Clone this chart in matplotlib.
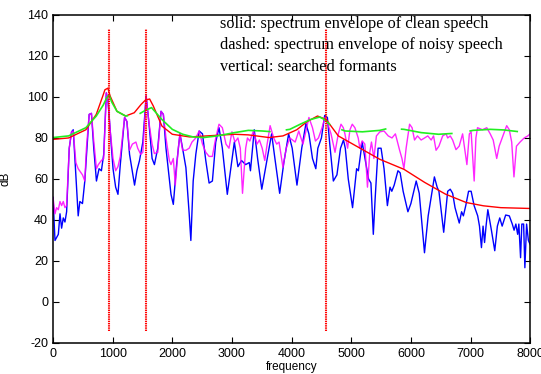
import matplotlib
matplotlib.use('Agg')
import matplotlib.pyplot as plt
import numpy as np

plt.rcParams['axes.unicode_minus'] = False
plt.rcParams['lines.scale_dashes'] = False

# --- spectrum of clean speech (blue) ---
clean_f = [0, 33, 89, 117, 144, 172, 200, 228, 272, 311,
           339, 383, 422, 450, 494, 533, 606, 644, 683, 728,
           772, 811, 850, 894, 922, 961, 1006, 1050, 1089, 1128,
           1200, 1239, 1283, 1367, 1406, 1450, 1506, 1561, 1606, 1661,
           1700, 1756, 1811, 1850, 1894, 1978, 2017, 2072, 2128, 2172,
           2228, 2283, 2311, 2350, 2394, 2450, 2506, 2561, 2617, 2672,
           2728, 2783, 2839, 2922, 3040, 3100, 3160, 3230, 3290, 3310,
           3374, 3430, 3500, 3580, 3665, 3720, 3800, 3870, 3950, 4010,
           4090, 4170, 4240, 4290, 4350, 4406, 4440, 4500, 4555, 4600,
           4640, 4700, 4760, 4820, 4870, 4900, 4950, 5022, 5090, 5120,
           5183, 5230, 5290, 5330, 5370, 5400, 5450, 5500, 5550, 5606,
           5650, 5680, 5720, 5783, 5820, 5870, 5950, 6000, 6089, 6140,
           6228, 6290, 6394, 6440, 6470, 6550, 6590, 6617, 6660, 6700,
           6740, 6811, 6850, 6880, 6920, 6967, 7010, 7060, 7120, 7150,
           7183, 7210, 7235, 7260, 7290, 7320, 7350, 7406, 7450, 7490,
           7530, 7589, 7650, 7700, 7730, 7760, 7790, 7810, 7839, 7860,
           7890, 7911, 7940, 7970, 8000]
clean_db = [51, 30, 33, 43, 36, 41, 39, 44, 75, 83,
            84, 62, 42, 49, 48, 59, 91.5, 92, 75, 59,
            65, 64, 72, 102, 98, 83, 65, 56, 52.5, 67,
            90, 88, 72, 57, 64, 69, 78, 100.5, 88, 70,
            67, 75, 93, 91.5, 75, 52.5, 47.6, 67, 82, 75,
            65.5, 43, 30, 59, 72, 83.4, 82, 69, 58, 59,
            78, 85, 75, 52.5, 78, 66, 69, 67, 68, 64,
            84, 70, 55, 68, 82, 70, 53, 68, 82, 75,
            57, 75, 87, 82, 70, 65, 75, 80, 91, 90,
            77, 59, 62, 75, 79, 75, 60, 46, 65, 64,
            78, 70, 60, 58, 33, 50, 75, 75, 65, 47,
            56, 54, 57, 64, 63, 54, 44, 48, 59, 53,
            24, 42, 61, 56, 54, 34, 46, 54, 55, 53,
            46, 38.5, 44, 42, 47, 54, 54, 47, 42, 37,
            26.5, 37, 29, 37, 45, 40, 35, 25, 37, 41,
            37, 42.4, 42, 38, 35, 38, 33, 38, 21.6, 38,
            38, 16.7, 38, 30, 28]

# --- spectrum of noisy speech (magenta) ---
noisy_f = [0, 33, 60, 89, 117, 144, 172, 200, 228, 272,
           311, 339, 383, 422, 494, 533, 560, 606, 644, 683,
           728, 760, 811, 850, 894, 922, 961, 1006, 1050, 1089,
           1128, 1200, 1239, 1283, 1330, 1390, 1420, 1470, 1506, 1561,
           1606, 1661, 1700, 1756, 1811, 1850, 1894, 1950, 1978, 2017,
           2050, 2100, 2128, 2172, 2228, 2283, 2330, 2394, 2450, 2506,
           2561, 2617, 2672, 2728, 2783, 2839, 2900, 2950, 3000, 3050,
           3100, 3140, 3177, 3230, 3260, 3300, 3360, 3420, 3460, 3507,
           3550, 3590, 3640, 3700, 3750, 3790, 3855, 3910, 3970, 4060,
           4120, 4190, 4230, 4290, 4350, 4400, 4450, 4510, 4560, 4606,
           4661, 4728, 4783, 4828, 4867, 4894, 4939, 4978, 5017, 5061,
           5117, 5144, 5183, 5228, 5272, 5311, 5339, 5380, 5422, 5480,
           5550, 5620, 5683, 5740, 5811, 5850, 5883, 5920, 5978, 6020,
           6061, 6110, 6172, 6230, 6283, 6340, 6380, 6422, 6470, 6533,
           6590, 6617, 6660, 6700, 6756, 6810, 6867, 6939, 6980, 7010,
           7061, 7090, 7117, 7200, 7272, 7330, 7380, 7439, 7480, 7530,
           7606, 7650, 7690, 7728, 7770, 7830, 7900, 7960, 8000]
noisy_db = [51, 43, 46, 45, 49, 47, 49, 46, 47, 75,
            83, 83.4, 68, 65, 62, 59, 75, 91.5, 92, 78.5,
            65, 67, 69, 70, 102, 98, 83, 70, 64, 66,
            71, 90, 88, 74, 77, 78, 75, 72, 73, 100.5,
            88, 77, 72.4, 73, 93, 91.5, 80, 69, 67, 70,
            57, 75, 82, 74, 74, 75, 78, 80, 83.4, 77,
            73, 71, 71, 80, 86.7, 85, 77, 75, 83, 78,
            80, 75, 53, 75, 80, 78.5, 83.4, 77, 79, 75,
            69, 77, 86, 80, 77, 78, 65.6, 75, 80, 78,
            83.4, 77, 82, 90, 85, 78.5, 80, 85, 90, 87,
            82, 73, 82, 86.7, 85, 82, 75, 84, 86.7, 85,
            80, 75, 78.6, 77, 56, 73, 78, 70, 81, 83,
            83.4, 81, 80, 82, 74, 70, 65, 75, 86.7, 85,
            79, 81, 79, 80, 81, 79, 81, 74, 76, 81,
            82, 80, 81, 79, 74.3, 76, 82, 67, 82, 83,
            59, 80, 85, 84, 85, 82, 79, 70, 76, 80,
            86, 84, 78, 61, 76, 78, 80, 81, 82]

# --- LPC envelope of clean speech (red) ---
env_clean_f = [0, 261, 551, 725, 841, 870, 920, 957, 1072, 1217,
               1362, 1478, 1550, 1620, 1681, 1826, 2000, 2290, 2580, 3043,
               3275, 3623, 3855, 4087, 4261, 4435, 4580, 4783, 5130, 5478,
               5884, 6232, 6580, 6928, 7217, 7507, 8000]
env_clean_db = [79.3, 80, 84, 91.5, 101, 103.5, 104.3, 100.5, 93, 90.7,
                92.3, 96.4, 98.5, 99, 95.6, 85.8, 81.8, 80.5, 81, 81.8,
                81.5, 80.2, 81, 84, 88, 90.7, 89, 81, 75.3, 69.6,
                64.7, 58.3, 52.6, 48.5, 46.9, 46, 45.6]

# --- LPC envelope of noisy speech (green) ---
env_noisy_f = [0, 261, 551, 725, 841, 899, 940, 985, 1072, 1217,
               1300, 1450, 1550, 1652, 1826, 2000, 2174, 2348, 2522, 2754,
               3043, 3275, 3507, 3681, 3970, 4145, 4319, 4470, 4551, 4667,
               4899, 5188, 5478, 5623, 5884, 6174, 6464, 6812, 7043, 7333,
               7565, 7797]
env_noisy_db = [80.2, 81, 85, 90.7, 96, 99.5, 101, 97.5, 93, 90.7,
                91, 91.8, 93.5, 94.8, 89, 84.2, 81.8, 80.5, 80.2, 81,
                82.6, 83.7, 83.4, 83, 84.2, 86.7, 89, 90.2, 89, 85.8,
                83.4, 83, 83.7, 84.7, 84.2, 82.6, 81.8, 82.4, 83.7, 84.2,
                83.9, 83.1]

# searched formants
formants = [935, 1565, 4575]
formant_lo = -14
formant_hi = 133

# where the dashes of the green curve break (Hz)
dash_breaks = [1260, 1450, 3650, 3900, 4650, 4830, 5590, 5830, 6700, 6980]

DPI = 100
fig = plt.figure(figsize=(5.41, 3.74), dpi=DPI)
ax = fig.add_axes([0.098, 0.083, 0.882, 0.877])
ax.set_xlim(0, 8000)
ax.set_ylim(-20, 140)


def arc_length_at(xs, ys, fx):
    pts = ax.transData.transform(np.column_stack([xs, ys]))
    seg = np.hypot(*np.diff(pts, axis=0).T)
    cum = np.concatenate([[0], np.cumsum(seg)])
    return np.interp(fx, xs, cum)


ax.plot(clean_f, clean_db, color='#0000ff', lw=1.0)
ax.plot(noisy_f, noisy_db, color='#ff00ff', lw=1.0, alpha=0.85)
ax.plot(env_clean_f, env_clean_db, color='#ff0000', lw=1.0)

marks = [arc_length_at(env_noisy_f, env_noisy_db, b) for b in dash_breaks]
total = arc_length_at(env_noisy_f, env_noisy_db, env_noisy_f[-1])
edges = [0] + marks + [total]
pattern = [(edges[i + 1] - edges[i]) * 72 / DPI for i in range(len(edges) - 1)]
pattern.append(500)
ax.plot(env_noisy_f, env_noisy_db, color='#22ee22', lw=1.2,
        linestyle=(0, tuple(pattern)))

ax.vlines(formants, formant_lo, formant_hi, colors='#ff0000', lw=1.5,
          linestyles=(0, (1, 0.6)))

ax.set_xticks(range(0, 8001, 1000))
ax.set_yticks(range(-20, 141, 20))
ax.tick_params(direction='in', top=True, right=True, length=4,
               labelsize=9)
for lab in ax.get_xticklabels() + ax.get_yticklabels():
    lab.set_family('Liberation Sans')
for sp in ax.spines.values():
    sp.set_linewidth(1.1)

ax.set_xlabel('frequency', family='Liberation Sans', fontsize=8.5, labelpad=1)
ax.set_ylabel('dB', family='Liberation Sans', fontsize=8.5, labelpad=11)

notes = ['solid: spectrum envelope of clean speech',
         'dashed: spectrum envelope of noisy speech',
         'vertical: searched formants']
for i, t in enumerate(notes):
    ax.text(0.35, 0.9726 - i * 0.0655, t, transform=ax.transAxes,
            family='Liberation Serif', fontsize=11.7, va='center', ha='left')

fig.savefig('out.png', dpi=DPI)
